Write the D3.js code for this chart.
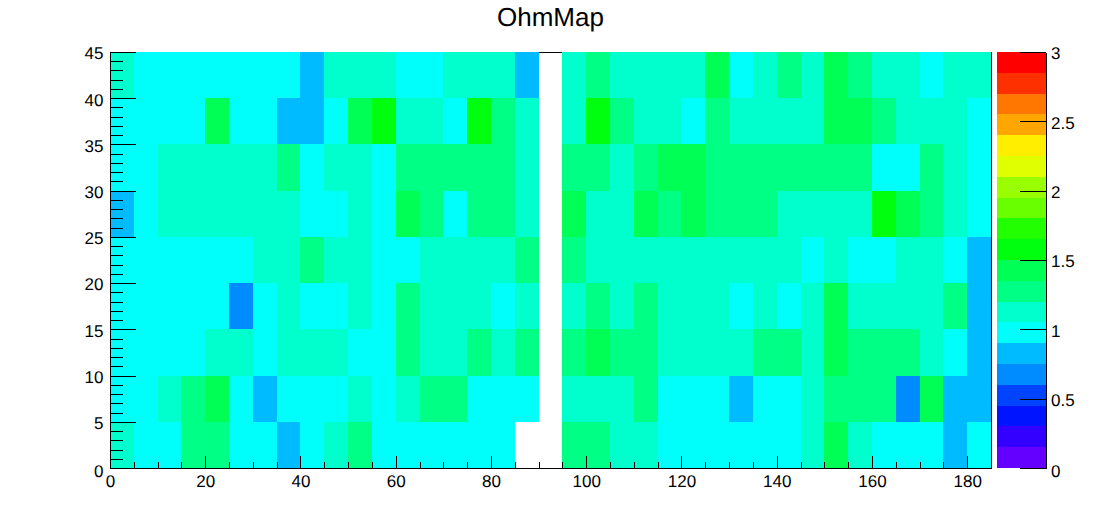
<!DOCTYPE html>
<html><head><meta charset="utf-8">
<script src="https://cdn.jsdelivr.net/npm/d3@7"></script>
<style>
html,body{margin:0;padding:0;background:#fff}
svg{display:block}
text{font-family:"Liberation Sans",Arial,sans-serif;fill:#000;text-rendering:geometricPrecision}
</style></head><body>
<div id="chart"></div>
<script>
const title = "OhmMap";
const binWidthX = 5, binWidthY = 5;
const xTicks = [0,20,40,60,80,100,120,140,160,180];
const xMinorTicks = [0,5,10,15,20,25,30,35,40,45,50,55,60,65,70,75,80,85,90,95,100,105,110,115,120,125,130,135,140,145,150,155,160,165,170,175,180,185];
const yTicks = [0,5,10,15,20,25,30,35,40,45];
const yMinorTicks = d3.range(0,46);
const zTicks = [0,0.5,1,1.5,2,2.5,3];
const palette = ["#6300ff","#3300ff","#0014ff","#0044ff","#008bff","#00bbff","#00fffb","#00ffcc","#00ff85","#00ff55","#00ff0e","#22ff00","#69ff00","#99ff00","#e0ff00","#ffee00","#ffa700","#ff7700","#ff3000","#ff0000"];
// Estimated cell values; each row runs from x=0 to x=185 in steps of 5
const row0 = [1.12,.98,.98,1.28,1.28,.98,.98,.82,.98,1.12,1.28,.98,.98,.98,.98,.98,.98,null,null,1.28,1.28,1.12,1.12,.98,.98,.98,.98,.98,.98,1.12,1.42,1.12,.98,.98,.98,.82,.98];
const row1 = [.98,.98,1.12,1.28,1.42,.98,.82,.98,.98,.98,1.12,.98,1.12,1.28,1.28,.98,.98,.98,null,1.12,1.12,1.12,1.28,.98,.98,.98,.82,.98,.98,1.12,1.28,1.28,1.28,.68,1.42,.82,.82];
const row2 = [.98,.98,.98,.98,1.12,1.12,.98,1.12,1.12,1.12,.98,.98,1.28,1.12,1.12,1.28,1.12,1.28,null,1.28,1.42,1.28,1.28,1.12,1.12,1.12,1.12,1.28,1.28,1.12,1.42,1.28,1.28,1.28,1.12,.98,.82];
const row3 = [.98,.98,.98,.98,.98,.68,.98,1.12,.98,.98,1.12,.98,1.28,1.12,1.12,1.12,.98,1.12,null,1.12,1.28,1.12,1.28,1.12,1.12,1.12,.98,1.12,.98,1.12,1.42,1.12,1.12,1.12,1.12,1.28,.82];
const row4 = [.98,.98,.98,.98,.98,.98,1.12,1.12,1.28,1.12,1.12,.98,.98,1.12,1.12,1.12,1.12,1.28,null,1.28,1.12,1.12,1.12,1.12,1.12,1.12,1.12,1.12,1.12,.98,1.12,.98,.98,1.12,1.12,.98,.82];
const row5 = [.82,.98,1.12,1.12,1.12,1.12,1.12,1.12,.98,.98,1.12,.98,1.42,1.28,.98,1.28,1.28,1.12,null,1.42,1.12,1.12,1.42,1.28,1.42,1.28,1.28,1.28,1.12,1.12,1.12,1.12,1.58,1.42,1.28,1.12,.98];
const row6 = [.98,.98,1.12,1.12,1.12,1.12,1.12,1.28,.98,1.12,1.12,.98,1.28,1.28,1.28,1.28,1.28,1.12,null,1.28,1.28,1.12,1.28,1.42,1.42,1.28,1.28,1.28,1.28,1.28,1.28,1.28,.98,.98,1.28,1.12,.98];
const row7 = [.98,.98,.98,.98,1.42,.98,.98,.82,.82,.98,1.42,1.58,1.12,1.12,.98,1.58,1.28,1.12,null,1.12,1.58,1.28,1.12,1.12,.98,1.28,1.12,1.12,1.12,1.12,1.42,1.42,1.28,1.12,1.12,1.12,.98];
const row8 = [1.12,.98,.98,.98,.98,.98,.98,.98,.82,1.12,1.12,1.12,.98,.98,1.12,1.12,1.12,.82,null,1.12,1.28,1.12,1.12,1.12,1.12,1.42,.98,1.12,1.28,1.12,1.42,1.28,1.12,1.12,.98,1.12,1.12];
const rows = [row0,row1,row2,row3,row4,row5,row6,row7,row8];

const W = 1102, H = 522;
const svg = d3.select("#chart").append("svg").attr("width",W).attr("height",H);
const x = d3.scaleLinear().domain([0,185]).range([110,991]);
const y = d3.scaleLinear().domain([0,45]).range([468,52]);
const z = d3.scaleLinear().domain([0,3]).range([468,52]);
const color = d3.scaleQuantize().domain([0,3]).range(palette);
const crisp = sel => sel.attr("shape-rendering","crispEdges");

// frame
svg.append("rect").attr("x",x(0)+.5).attr("y",y(45)+.5).attr("width",x(185)-x(0)).attr("height",y(0)-y(45))
  .attr("fill","none").attr("stroke","#000").call(crisp);

// cells
const cells = rows.flatMap((r,j)=>r.map((v,i)=>({i,j,v}))).filter(d=>d.v!==null);
svg.append("g").call(crisp).selectAll("rect").data(cells).join("rect")
  .attr("x",d=>Math.round(x(d.i*binWidthX)))
  .attr("width",d=>Math.round(x((d.i+1)*binWidthX))-Math.round(x(d.i*binWidthX)))
  .attr("y",d=>Math.round(y((d.j+1)*binWidthY)))
  .attr("height",d=>Math.round(y(d.j*binWidthY))-Math.round(y((d.j+1)*binWidthY)))
  .attr("fill",d=>color(d.v));

function styleAxis(g){
  g.call(crisp);
  g.selectAll("path.domain").attr("stroke","#000");
  g.selectAll("line").attr("stroke","#000");
  g.selectAll("text").attr("font-size",17).attr("fill","#000");
}
// x axis
svg.append("g").attr("transform","translate(0,468)")
  .call(d3.axisBottom(x).tickValues(xMinorTicks).tickSize(-6).tickSizeOuter(0).tickFormat(""))
  .call(styleAxis);
svg.append("g").attr("transform","translate(0,468)")
  .call(d3.axisBottom(x).tickValues(xTicks).tickSize(-12).tickSizeOuter(0).tickFormat(d3.format("d")))
  .call(styleAxis)
  .call(g=>g.selectAll("text").attr("y",7).attr("dy","0.71em"));
// y axis
svg.append("g").attr("transform","translate(110,0)")
  .call(d3.axisLeft(y).tickValues(yMinorTicks).tickSize(-13).tickSizeOuter(0).tickFormat(""))
  .call(styleAxis);
svg.append("g").attr("transform","translate(110,0)")
  .call(d3.axisLeft(y).tickValues(yTicks).tickSize(-26).tickSizeOuter(0).tickFormat(d3.format("d")))
  .call(styleAxis)
  .call(g=>g.selectAll("text").attr("x",-6.5).attr("y",d=>d===0?3:1).attr("dy","0.34em"));

// palette
const bandH = 3/palette.length;
svg.append("g").call(crisp).selectAll("rect").data(palette).join("rect")
  .attr("x",997).attr("width",49)
  .attr("y",(c,i)=>Math.round(z((i+1)*bandH)))
  .attr("height",(c,i)=>Math.round(z(i*bandH))-Math.round(z((i+1)*bandH)))
  .attr("fill",c=>c);
svg.append("g").attr("transform","translate(1046,0)")
  .call(d3.axisRight(z).tickValues(zTicks).tickSize(-26).tickSizeOuter(0).tickFormat(d3.format("")))
  .call(styleAxis)
  .call(g=>g.selectAll("text").attr("x",5).attr("y",d=>d===0?3:1).attr("dy","0.34em"));

// title
svg.append("text").attr("x",550.5).attr("y",26).attr("text-anchor","middle").attr("font-size",26).text(title);
</script>
</body></html>
